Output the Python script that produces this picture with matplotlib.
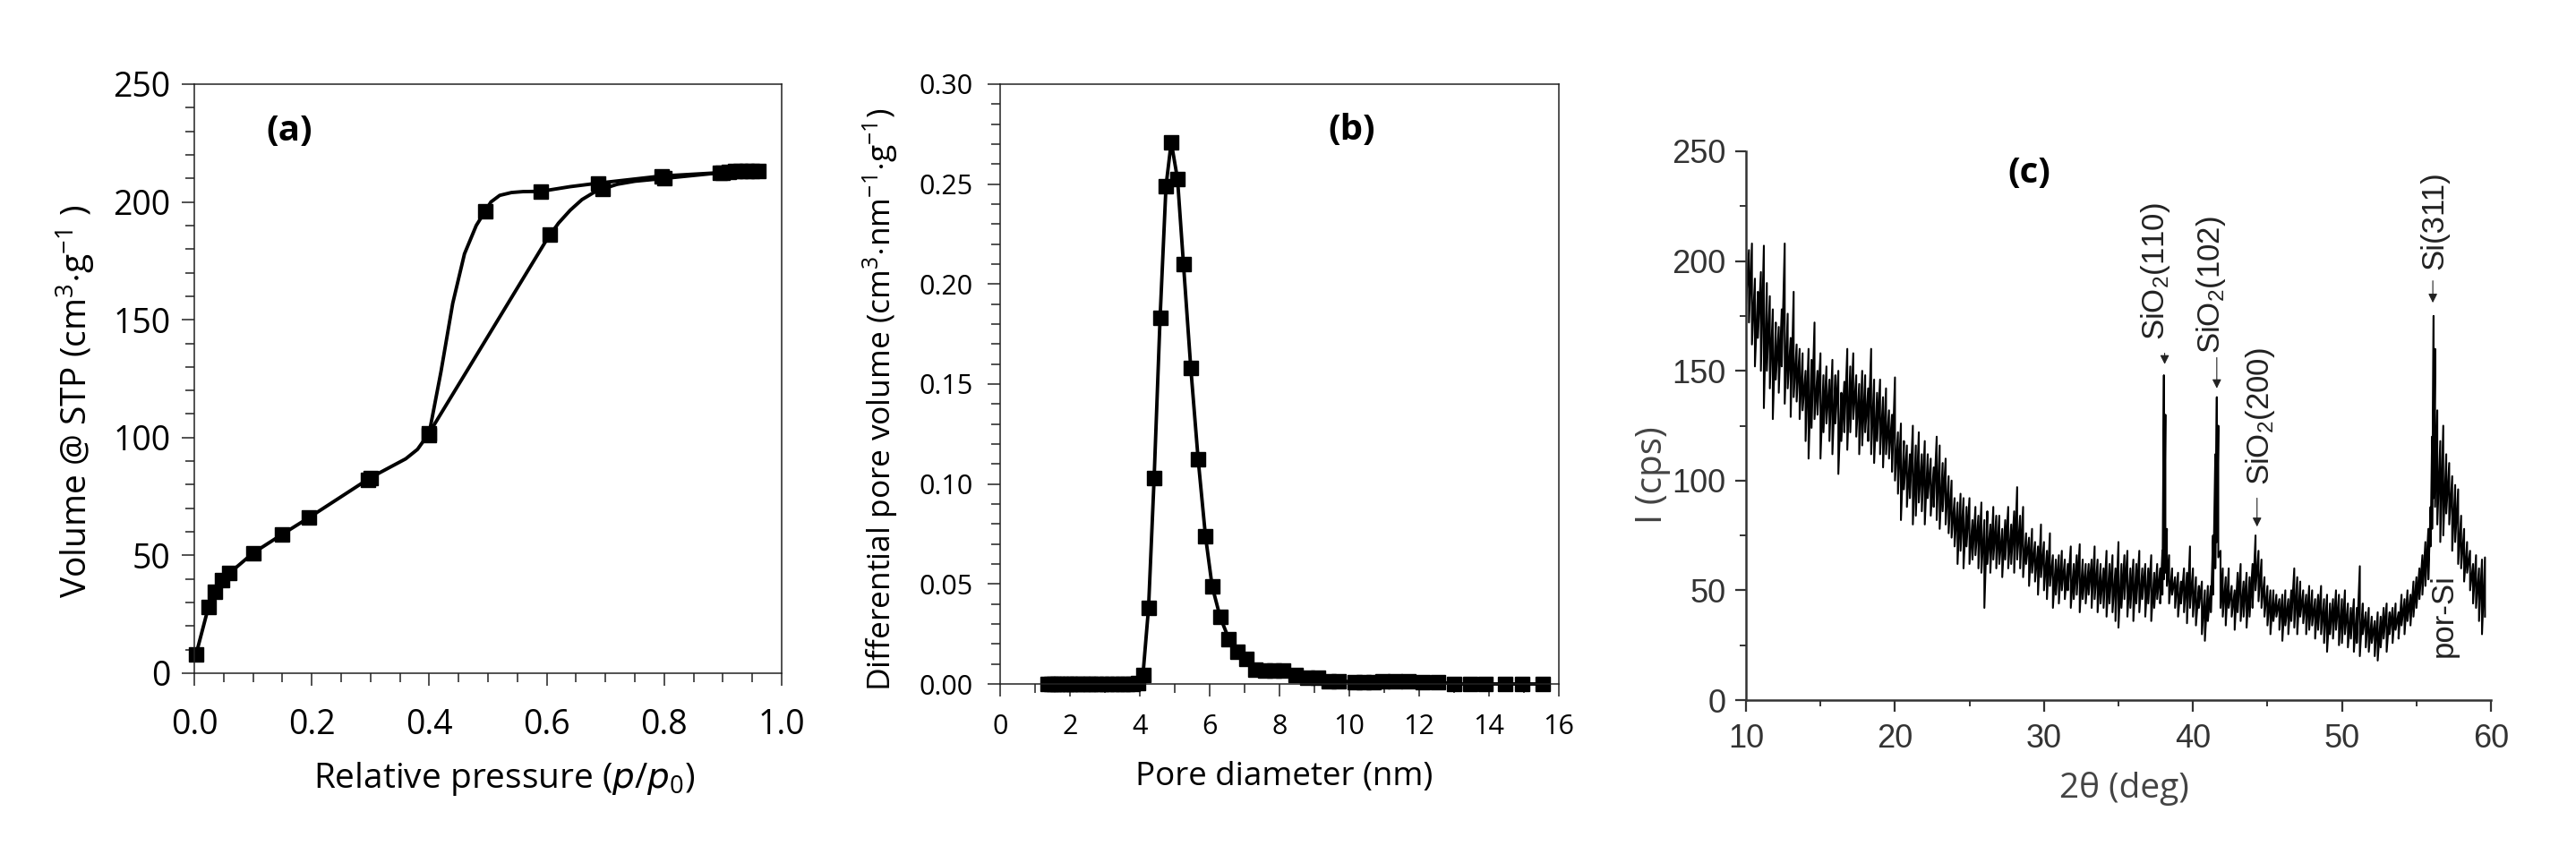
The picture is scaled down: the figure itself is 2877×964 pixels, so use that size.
import matplotlib
matplotlib.use("Agg")
import numpy as np
import matplotlib.pyplot as plt
from matplotlib.ticker import MultipleLocator, FormatStrFormatter

plt.rcParams['mathtext.default'] = 'regular'
plt.rcParams['font.family'] = ['Open Sans', 'DejaVu Sans']

# (a) isotherm markers
ads_p = [0.003, 0.024, 0.035, 0.048, 0.06, 0.1, 0.15, 0.195, 0.3, 0.4, 0.605, 0.695, 0.8, 0.9, 0.92, 0.94, 0.96]
ads_v = [8, 28, 34.5, 39.5, 42.5, 51, 59, 66, 83, 102, 186, 205.5, 210, 212.5, 213, 213, 213]
des_p = [0.95, 0.93, 0.91, 0.895, 0.795, 0.688, 0.59, 0.495, 0.4, 0.295]
des_v = [213, 213, 212.8, 212.3, 211, 208, 204.5, 196, 101, 82]
# (a) line as it is traced, including the bends between markers
ads_line_p = [0.003, 0.024, 0.035, 0.048, 0.06, 0.1, 0.15, 0.195, 0.3, 0.33, 0.36, 0.38, 0.4, 0.5, 0.6, 0.62, 0.64, 0.66, 0.68, 0.695, 0.72, 0.75, 0.8, 0.9, 0.96]
ads_line_v = [8, 28, 34.5, 39.5, 42.5, 51, 59, 66, 83, 87, 91, 95, 102, 143, 184, 191, 196.5, 201, 204, 205.5, 207.5, 208.8, 210, 212.5, 213]
des_line_p = [0.4, 0.42, 0.44, 0.46, 0.48, 0.495, 0.505, 0.52, 0.54, 0.56, 0.59, 0.64, 0.688, 0.795, 0.9, 0.96]
des_line_v = [102, 128, 157, 178, 190, 196, 200, 202.8, 204, 204.4, 204.5, 206.5, 208, 211, 212.5, 213]

# (b) pore size distribution
pore_d = [1.35, 1.45, 1.55, 1.65, 1.75, 1.9, 2.0, 2.1, 2.2, 2.35, 2.5, 2.6, 2.75, 2.9, 3.05, 3.2, 3.35, 3.5, 3.65, 3.8, 3.95,
          4.09, 4.25, 4.41, 4.58, 4.75, 4.9, 5.08, 5.25, 5.46, 5.67, 5.88, 6.07, 6.3, 6.55, 6.8, 7.05, 7.3, 7.6, 7.85, 8.1,
          8.45, 8.8, 9.1, 9.4, 9.7, 10.15, 10.4, 10.7, 10.95, 11.3, 11.7, 12.1, 12.55, 13.0, 13.45, 13.9, 14.45, 14.95, 15.55]
pore_v = [0, 0, 0, 0, 0, 0, 0, 0, 0, 0, 0, 0, 0, 0, 0, 0, 0, 0, 0, 0, 0.0005,
          0.0045, 0.038, 0.103, 0.183, 0.249, 0.271, 0.2525, 0.21, 0.158, 0.1125, 0.074, 0.049, 0.0335, 0.0225, 0.016, 0.0125, 0.007, 0.0065, 0.0065, 0.0065,
          0.0045, 0.003, 0.003, 0.0015, 0.0015, 0.001, 0.001, 0.001, 0.0012, 0.0015, 0.0015, 0.001, 0.001, 0, 0, 0, 0, 0, 0]

# (c) diffractogram, top and bottom of the noise band at each angle
two_theta = [
    10.0, 10.2, 10.4, 10.6, 10.8, 11.0, 11.2, 11.4, 11.6, 11.8,
    12.0, 12.2, 12.4, 12.6, 12.8, 13.0, 13.2, 13.4, 13.6, 13.8,
    14.0, 14.2, 14.4, 14.6, 14.8, 15.0, 15.2, 15.4, 15.6, 15.8,
    16.0, 16.2, 16.4, 16.6, 16.8, 17.0, 17.2, 17.4, 17.6, 17.8,
    18.0, 18.2, 18.4, 18.6, 18.8, 19.0, 19.2, 19.4, 19.6, 19.8,
    20.0, 20.2, 20.4, 20.6, 20.8, 21.0, 21.2, 21.4, 21.6, 21.8,
    22.0, 22.2, 22.4, 22.6, 22.8, 23.0, 23.2, 23.4, 23.6, 23.8,
    24.0, 24.2, 24.4, 24.6, 24.8, 25.0, 25.2, 25.4, 25.6, 25.8,
    26.0, 26.2, 26.4, 26.6, 26.8, 27.0, 27.2, 27.4, 27.6, 27.8,
    28.0, 28.2, 28.4, 28.6, 28.8, 29.0, 29.2, 29.4, 29.6, 29.8,
    30.0, 30.2, 30.4, 30.6, 30.8, 31.0, 31.2, 31.4, 31.6, 31.8,
    32.0, 32.2, 32.4, 32.6, 32.8, 33.0, 33.2, 33.4, 33.6, 33.8,
    34.0, 34.2, 34.4, 34.6, 34.8, 35.0, 35.2, 35.4, 35.6, 35.8,
    36.0, 36.2, 36.4, 36.6, 36.8, 37.0, 37.2, 37.4, 37.6, 37.8,
    37.95, 38.05, 38.15, 38.25, 38.4, 38.6, 38.8, 39.0, 39.2, 39.4, 39.6, 39.8,
    40.0, 40.2, 40.4, 40.6, 40.8, 41.0, 41.2, 41.35, 41.5, 41.6, 41.7, 41.85,
    42.0, 42.2, 42.4, 42.6, 42.8, 43.0, 43.2, 43.4, 43.6, 43.8,
    44.0, 44.2, 44.4, 44.6, 44.8, 45.0, 45.2, 45.4, 45.6, 45.8,
    46.0, 46.2, 46.4, 46.6, 46.8, 47.0, 47.2, 47.4, 47.6, 47.8,
    48.0, 48.2, 48.4, 48.6, 48.8, 49.0, 49.2, 49.4, 49.6, 49.8,
    50.0, 50.2, 50.4, 50.6, 50.8, 51.0, 51.2, 51.4, 51.6, 51.8,
    52.0, 52.2, 52.4, 52.6, 52.8, 53.0, 53.2, 53.4, 53.6, 53.8,
    54.0, 54.2, 54.4, 54.6, 54.8, 55.0, 55.2, 55.4, 55.6, 55.8,
    55.95, 56.05, 56.15, 56.25, 56.4, 56.6, 56.8, 57.0, 57.2, 57.4, 57.6, 57.8,
    58.0, 58.2, 58.4, 58.6, 58.8, 59.0, 59.2, 59.4, 59.6]
band_top = [
    225, 205, 208, 192, 186, 195, 207, 190, 184, 178,
    172, 170, 178, 208, 176, 165, 186, 162, 160, 158,
    150, 160, 155, 172, 150, 158, 148, 152, 146, 155,
    148, 150, 140, 145, 160, 152, 158, 148, 144, 150,
    148, 142, 160, 146, 140, 146, 138, 142, 132, 130,
    147, 122, 126, 118, 116, 112, 125, 116, 122, 112,
    118, 112, 110, 106, 120, 116, 108, 110, 102, 100,
    92, 90, 94, 92, 88, 92, 82, 88, 84, 90,
    82, 86, 80, 88, 84, 84, 78, 82, 88, 80,
    86, 97, 84, 88, 76, 74, 78, 72, 70, 80,
    72, 68, 76, 66, 64, 66, 68, 64, 62, 70,
    62, 66, 71, 64, 62, 62, 64, 70, 64, 62,
    60, 68, 62, 66, 60, 72, 62, 66, 68, 60,
    64, 62, 68, 60, 62, 60, 66, 58, 62, 60,
    68, 148, 130, 78, 66, 60, 56, 58, 54, 60, 58, 70,
    60, 56, 52, 54, 50, 52, 52, 75, 112, 138, 125, 68,
    60, 56, 60, 52, 50, 58, 62, 54, 58, 56,
    62, 75, 68, 64, 56, 52, 50, 50, 48, 46,
    48, 50, 46, 50, 60, 56, 54, 50, 48, 52,
    50, 46, 48, 52, 46, 48, 44, 46, 50, 48,
    46, 50, 44, 42, 46, 42, 61, 44, 40, 42,
    38, 36, 40, 38, 42, 44, 40, 42, 44, 40,
    48, 46, 50, 48, 54, 56, 60, 66, 72, 78,
    88, 120, 175, 160, 132, 118, 125, 112, 108, 102, 98, 96,
    84, 78, 72, 68, 62, 66, 60, 64, 65]
band_bottom = [
    180, 172, 162, 152, 165, 150, 133, 150, 142, 128,
    146, 140, 152, 135, 142, 129, 138, 136, 128, 132,
    118, 110, 124, 128, 130, 110, 122, 126, 118, 112,
    126, 103, 118, 122, 114, 122, 128, 120, 112, 116,
    122, 118, 112, 108, 118, 112, 106, 112, 110, 104,
    100, 94, 82, 96, 88, 92, 80, 84, 90, 86,
    80, 92, 84, 88, 82, 78, 86, 80, 76, 74,
    70, 62, 68, 60, 70, 62, 64, 66, 60, 58,
    42, 62, 58, 64, 60, 62, 56, 64, 60, 62,
    58, 64, 60, 56, 62, 52, 58, 54, 48, 56,
    50, 46, 52, 42, 48, 44, 50, 46, 50, 42,
    46, 48, 40, 46, 44, 48, 42, 46, 40, 44,
    42, 38, 44, 40, 36, 33, 42, 46, 38, 42,
    36, 44, 40, 46, 38, 44, 36, 42, 46, 44,
    48, 55, 58, 52, 44, 48, 42, 38, 44, 40, 35, 42,
    38, 34, 42, 30, 27, 36, 40, 48, 60, 72, 65, 42,
    38, 34, 42, 38, 32, 40, 36, 38, 33, 38,
    42, 50, 45, 42, 38, 34, 30, 36, 38, 32,
    27, 34, 30, 36, 33, 30, 38, 35, 30, 32,
    34, 28, 32, 30, 26, 22, 30, 28, 32, 25,
    26, 30, 24, 28, 22, 26, 20, 30, 24, 22,
    26, 20, 18, 24, 28, 22, 30, 26, 32, 28,
    34, 30, 36, 34, 38, 42, 46, 48, 52, 55,
    70, 78, 92, 88, 80, 72, 75, 85, 80, 68, 72, 62,
    60, 54, 58, 50, 44, 42, 36, 30, 38]

peak_labels = ["SiO$_2$(110)", "SiO$_2$(102)", "SiO$_2$(200)", "Si(311)"]
peak_theta = [38.1, 41.6, 44.3, 56.1]
peak_label_x = [37.5, 41.2, 44.5, 56.2]
peak_tip = [153, 142, 79, 181]
peak_tail = [158, 156, 92, 191]
peak_label_y = [164, 158, 98, 196]

fig = plt.figure(figsize=(28.77, 9.64), dpi=100)
W, H = 2877, 964


def add_axes(left, right, top, bottom):
    return fig.add_axes([left / W, 1 - bottom / H, (right - left) / W, (bottom - top) / H])


def style_excel(ax):
    for s in ax.spines.values():
        s.set_linewidth(1.1)
        s.set_color('#222222')
    ax.tick_params(which='major', length=10, width=1.1, color='#222222')
    ax.tick_params(which='minor', length=7, width=1.1, color='#222222')


# panel a
ax_a = add_axes(217, 873, 94, 752)
ax_a.plot(ads_line_p, ads_line_v, color='k', lw=2.8)
ax_a.plot(des_line_p, des_line_v, color='k', lw=2.8)
ax_a.plot(ads_p, ads_v, 's', color='k', ms=11, clip_on=False)
ax_a.plot(des_p, des_v, 's', color='k', ms=11)
ax_a.set_xlim(0, 1)
ax_a.set_ylim(0, 250)
ax_a.xaxis.set_major_locator(MultipleLocator(0.2))
ax_a.xaxis.set_minor_locator(MultipleLocator(0.05))
ax_a.xaxis.set_major_formatter(FormatStrFormatter('%.1f'))
ax_a.yaxis.set_major_locator(MultipleLocator(50))
ax_a.yaxis.set_minor_locator(MultipleLocator(10))
style_excel(ax_a)
ax_a.tick_params(axis='x', which='major', labelsize=27, pad=18)
ax_a.tick_params(axis='y', which='major', labelsize=27, pad=9)
ax_a.set_xlabel(r"Relative pressure ($\mathit{p}$/$\mathit{p}_0$)", fontsize=28)
ax_a.set_ylabel(r"Volume @ STP (cm$^3$$\cdot$g$^{-1}$ )", fontsize=28)
ax_a.xaxis.set_label_coords(0.528, -0.148)
ax_a.yaxis.set_label_coords(-0.165, 0.462)
ax_a.text(0.162, 230, "(a)", fontsize=29, fontweight='bold', ha='center', va='center')

# panel b
ax_b = add_axes(1117, 1741, 94, 764)
ax_b.plot(pore_d, pore_v, '-s', color='k', lw=2.8, ms=11, clip_on=False)
ax_b.set_xlim(0, 16)
ax_b.set_ylim(0, 0.30)
ax_b.xaxis.set_major_locator(MultipleLocator(2))
ax_b.xaxis.set_minor_locator(MultipleLocator(1))
ax_b.yaxis.set_major_locator(MultipleLocator(0.05))
ax_b.yaxis.set_minor_locator(MultipleLocator(0.01))
ax_b.yaxis.set_major_formatter(FormatStrFormatter('%.2f'))
style_excel(ax_b)
ax_b.tick_params(axis='x', which='major', labelsize=22, pad=14)
ax_b.tick_params(axis='y', which='major', labelsize=22, pad=12)
ax_b.set_xlabel("Pore diameter (nm)", fontsize=26.5)
ax_b.set_ylabel(r"Differential pore volume (cm$^3$$\cdot$nm$^{-1}$$\cdot$g$^{-1}$)", fontsize=25.5)
ax_b.xaxis.set_label_coords(0.509, -0.128)
ax_b.yaxis.set_label_coords(-0.18, 0.474)
ax_b.text(10.07, 0.277, "(b)", fontsize=29, fontweight='bold', ha='center', va='center')

# panel c
ax_c = add_axes(1950, 2782, 169, 782)
zig_x = np.column_stack((two_theta, two_theta)).ravel()
zig_y = np.column_stack((band_top, band_bottom)).ravel()
ax_c.plot(zig_x, zig_y, color='k', lw=1.5)
ax_c.set_xlim(10, 60)
ax_c.set_ylim(0, 250)
ax_c.xaxis.set_major_locator(MultipleLocator(10))
ax_c.xaxis.set_minor_locator(MultipleLocator(5))
ax_c.yaxis.set_major_locator(MultipleLocator(50))
ax_c.yaxis.set_minor_locator(MultipleLocator(25))
ax_c.spines['top'].set_visible(False)
ax_c.spines['right'].set_visible(False)
for s in ('left', 'bottom'):
    ax_c.spines[s].set_linewidth(1.8)
    ax_c.spines[s].set_color('#333333')
ax_c.tick_params(which='major', length=9, width=1.6, color='#333333', labelsize=26, labelcolor='#333333',
                 labelfontfamily='Liberation Sans')
ax_c.tick_params(axis='x', which='major', pad=10)
ax_c.tick_params(axis='y', which='major', pad=7)
ax_c.tick_params(which='minor', length=5, width=1.4, color='#333333')
ax_c.set_xlabel("2θ (deg)", fontsize=28, color='#444444')
ax_c.set_ylabel("I (cps)", fontsize=29, color='#444444')
ax_c.xaxis.set_label_coords(0.508, -0.13)
ax_c.yaxis.set_label_coords(-0.101, 0.41)
ax_c.text(29, 240, "(c)", fontsize=29, fontweight='bold', ha='center', va='center')

for name, x, lx, tip, tail, ly in zip(peak_labels, peak_theta, peak_label_x, peak_tip, peak_tail, peak_label_y):
    ax_c.annotate("", xy=(x, tip), xytext=(x, tail),
                  arrowprops=dict(arrowstyle='-|>', color='#222222', lw=0.8, mutation_scale=15, shrinkA=0, shrinkB=0))
    ax_c.text(lx, ly, name, rotation=90, ha='center', va='bottom', fontsize=25,
              family='Liberation Sans', color='#222222')
ax_c.text(56.8, 19.5, "por-Si", rotation=90, ha='center', va='bottom', fontsize=25,
          family='Liberation Sans', color='#222222')

fig.savefig("out.png", dpi=100)
